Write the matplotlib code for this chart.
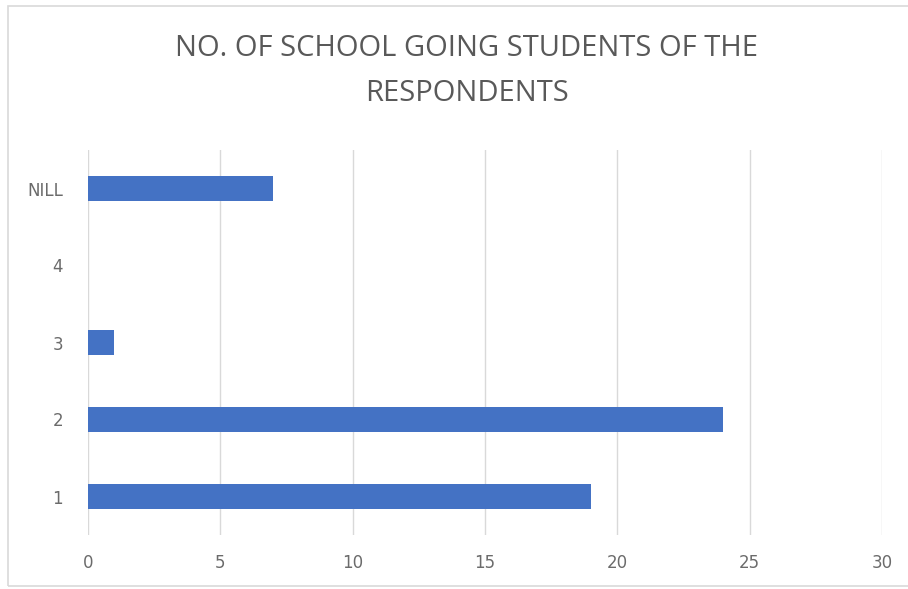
import matplotlib.pyplot as plt
from matplotlib.patches import Rectangle

categories = ['1', '2', '3', '4', 'NILL']
counts = [19, 24, 1, 0, 7]
xticks = [0, 5, 10, 15, 20, 25, 30]

W, H = 908, 589
fig = plt.figure(figsize=(W / 100, H / 100), dpi=100)
ax = fig.add_axes([88 / W, 54 / H, (882 - 88) / W, (535 - 150) / H])

# chart border
fig.patches.append(Rectangle((8 / W, 3 / H), 1.2, (583 - 3) / H, transform=fig.transFigure,
                             fill=False, edgecolor='#d9d9d9', linewidth=1.2))

ax.barh(range(len(categories)), counts, height=0.33, color='#4472C4', zorder=3)
ax.set_xlim(0, 30)
ax.set_ylim(-0.5, len(categories) - 0.5)
ax.set_xticks(xticks)
ax.set_yticks(range(len(categories)))
ax.set_yticklabels(categories)
for lbl in ax.get_yticklabels():
    if lbl.get_text() == 'NILL':
        lbl.set_fontsize(8.5)

ax.grid(axis='x', color='#d9d9d9', linewidth=1, zorder=0)
for s in ax.spines.values():
    s.set_visible(False)
ax.tick_params(length=0, colors='#6b6b6b', labelsize=12)
ax.tick_params(axis='y', pad=18)
ax.tick_params(axis='x', pad=14)

fig.text(467 / W, 1 - 71 / H, 'NO. OF SCHOOL GOING STUDENTS OF THE\nRESPONDENTS',
         ha='center', va='center', fontsize=21, color='#595959', linespacing=1.7,
         family='Open Sans')

fig.savefig('out.png', dpi=100)
